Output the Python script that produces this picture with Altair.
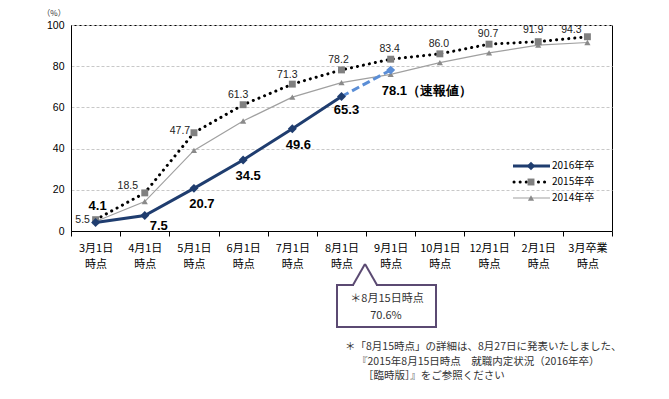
import altair as alt
import pandas as pd

# ---------------- data ----------------
categories = ["3月1日\n時点", "4月1日\n時点", "5月1日\n時点", "6月1日\n時点", "7月1日\n時点",
              "8月1日\n時点", "9月1日\n時点", "10月1日\n時点", "12月1日\n時点", "2月1日\n時点",
              "3月卒業\n時点"]
v2016 = [4.1, 7.5, 20.7, 34.5, 49.6, 65.3]
v2016_prelim = [65.3, 78.1]          # 8月1日 -> 9月1日（速報値）
v2015 = [5.5, 18.5, 47.7, 61.3, 71.3, 78.2, 83.4, 86.0, 90.7, 91.9, 94.3]
v2014 = [4.6, 14.3, 39.1, 53.4, 65.0, 72.0, 76.0, 81.7, 86.5, 90.2, 91.5]
labels2016 = ["4.1", "7.5", "20.7", "34.5", "49.6", "65.3"]
label_prelim = "78.1（速報値）"
labels2015 = ["5.5", "18.5", "47.7", "61.3", "71.3", "78.2", "83.4", "86.0", "90.7", "91.9", "94.3"]
callout_lines = ["＊8月15日時点", "70.6%"]
footnote_lines = ["＊「8月15時点」の詳細は、8月27日に発表いたしました、",
                  "『2015年8月15日時点　就職内定状況（2016年卒）",
                  "［臨時版］』をご参照ください"]
legend_names = ["2016年卒", "2015年卒", "2014年卒"]

# label offsets (styling, pixels)
off2016 = [(2, -17), (14, 10), (8, 16), (5, 16), (6, 16), (5, 14)]
off2015 = [(-13, 0), (-17, -7), (-14, -2), (-5, -10), (-5, -9), (-3, -10), (-1, -10),
           (-1, -10), (-1, -10), (-5, -12), (-16, -7)]

df2016 = pd.DataFrame({"cat": categories[:6], "v": v2016, "lab": labels2016})
dfpre = pd.DataFrame({"cat": categories[5:7], "v": v2016_prelim})
dfpre_end = dfpre.iloc[[1]].assign(lab=label_prelim)
df2015 = pd.DataFrame({"cat": categories, "v": v2015, "lab": labels2015})
df2014 = pd.DataFrame({"cat": categories, "v": v2014})
one = pd.DataFrame({"a": [0]})

C16 = "#1f3d6f"
C16L = "#5b8ed6"
C14 = "#a0a0a0"
C14M = "#8a8a8a"
C15M = "#808080"
JP = "Noto Sans CJK JP"

TOP = 17
H = 206
dyb = 8 + TOP - 22  # vertical shift of annotation coordinates relative to plot top

x_enc = alt.X("cat:N", sort=categories, title=None, bandPosition=0.5,
              scale=alt.Scale(type="band", domain=categories, paddingInner=0, paddingOuter=0),
              axis=alt.Axis(labelExpr="split(datum.label, '\\n')", labelAngle=0,
                            labelFont=JP, labelFontSize=11, labelColor="#000",
                            labelLineHeight=16, labelPadding=6, labelBaseline="top",
                            tickBand="extent", tickSize=5, tickColor="#000",
                            domainColor="#000", grid=False))
y_enc = alt.Y("v:Q", title=None,
              scale=alt.Scale(domain=[0, 100], nice=False, zero=True),
              axis=alt.Axis(values=[0, 20, 40, 60, 80, 100], labelFontSize=10.5,
                            labelFont="Liberation Sans", labelColor="#000", labelPadding=7,
                            tickSize=0, domainColor="#000", gridColor="#c8c8c8",
                            gridDash=[3, 2], gridWidth=1))

l2014 = alt.Chart(df2014).mark_line(color=C14, strokeWidth=1.2).encode(x=x_enc, y=y_enc)
p2014 = alt.Chart(df2014).mark_point(shape="triangle-up", filled=True, color=C14M, size=38,
                                     opacity=1).encode(x=x_enc, y="v:Q")

l2015 = alt.Chart(df2015).mark_line(color="#000", strokeWidth=3, strokeDash=[0.1, 6],
                                    strokeCap="round").encode(x=x_enc, y="v:Q")
p2015 = alt.Chart(df2015).mark_point(shape="square", filled=True, color=C15M, size=48,
                                     opacity=1).encode(x=x_enc, y="v:Q")
t2015 = [
    alt.Chart(df2015).transform_filter(alt.datum.lab == labels2015[i]).mark_text(
        font="Liberation Sans", fontSize=10.5, color="#222", baseline="middle",
        dx=off2015[i][0], dy=off2015[i][1]).encode(
        x=x_enc, y="v:Q", text="lab:N")
    for i in range(len(labels2015))
]

lpre = alt.Chart(dfpre).mark_line(color=C16L, strokeWidth=3, strokeDash=[8, 4]).encode(x=x_enc, y="v:Q")
ppre = alt.Chart(dfpre_end).mark_point(shape="diamond", filled=True, color=C16L, size=80,
                                       opacity=1).encode(x=x_enc, y="v:Q")
tpre = alt.Chart(dfpre_end).mark_text(font="Liberation Sans", fontWeight="bold", fontSize=13,
                                      align="left", dx=-9, dy=21, color="#000").encode(
    x=x_enc, y="v:Q", text="lab:N")

l2016 = alt.Chart(df2016).mark_line(color=C16, strokeWidth=3).encode(x=x_enc, y="v:Q")
p2016 = alt.Chart(df2016).mark_point(shape="diamond", filled=True, color=C16, size=80,
                                     opacity=1).encode(x=x_enc, y="v:Q")
t2016 = [
    alt.Chart(df2016).transform_filter(alt.datum.lab == labels2016[i]).mark_text(
        font="Liberation Sans", fontWeight="bold", fontSize=13, color="#000",
        baseline="middle", dx=off2016[i][0], dy=off2016[i][1]).encode(
        x=x_enc, y="v:Q", text="lab:N")
    for i in range(len(labels2016))
]

# unit label
unit = alt.Chart(one).mark_text(text="（%）", font=JP, fontSize=8, color="#333",
                                baseline="middle").encode(
    x=alt.value(-17), y=alt.value(-11))

def Y(v):
    return alt.value(v - dyb)

# legend (manual)
leg = []
ly = [144, 160, 176]
leg.append(alt.Chart(one).mark_rule(color=C16, strokeWidth=3).encode(
    x=alt.value(442), x2=alt.value(479), y=Y(ly[0])))
leg.append(alt.Chart(one).mark_point(shape="diamond", filled=True, color=C16, size=70, opacity=1).encode(
    x=alt.value(460), y=Y(ly[0])))
leg.append(alt.Chart(one).mark_rule(color="#000", strokeWidth=3, strokeDash=[0.1, 6], strokeCap="round").encode(
    x=alt.value(443), x2=alt.value(479), y=Y(ly[1])))
leg.append(alt.Chart(one).mark_point(shape="square", filled=True, color=C15M, size=48, opacity=1).encode(
    x=alt.value(460), y=Y(ly[1])))
leg.append(alt.Chart(one).mark_rule(color=C14, strokeWidth=1.2).encode(
    x=alt.value(442), x2=alt.value(479), y=Y(ly[2])))
leg.append(alt.Chart(one).mark_point(shape="triangle-up", filled=True, color=C14M, size=38, opacity=1).encode(
    x=alt.value(460), y=Y(ly[2])))
for i, name in enumerate(legend_names):
    leg.append(alt.Chart(one).mark_text(text=name, font=JP, fontSize=10, align="left",
                                        baseline="middle", color="#000").encode(
        x=alt.value(481), y=Y(ly[i])))

# callout box
CB = "#5b4a72"
box = alt.Chart(one).mark_rect(fill="white", stroke=CB, strokeWidth=2).encode(
    x=alt.value(266), x2=alt.value(365), y=Y(263), y2=Y(305))
cover = alt.Chart(one).mark_rule(color="white", strokeWidth=3).encode(
    x=alt.value(283), x2=alt.value(305), y=Y(263))
side1 = alt.Chart(one).mark_rule(color=CB, strokeWidth=2).encode(
    x=alt.value(282), x2=alt.value(294), y=Y(263), y2=Y(242))
side2 = alt.Chart(one).mark_rule(color=CB, strokeWidth=2).encode(
    x=alt.value(294), x2=alt.value(306), y=Y(242), y2=Y(263))
ct1 = alt.Chart(one).mark_text(text=callout_lines[0], font=JP, fontSize=11, color="#333").encode(
    x=alt.value(316), y=Y(277))
ct2 = alt.Chart(one).mark_text(text=callout_lines[1], font=JP, fontSize=11, color="#333").encode(
    x=alt.value(315), y=Y(294))

fn = []
fx = [274, 286, 292]
fy = [325, 340, 354]
for i, t in enumerate(footnote_lines):
    fn.append(alt.Chart(one).mark_text(text=t, font=JP, fontSize=10.5, align="left",
                                       baseline="middle", color="#333").encode(
        x=alt.value(fx[i]), y=Y(fy[i])))

chart = alt.layer(
    l2014, p2014, l2015, p2015, *t2015, lpre, ppre, l2016, p2016, *t2016, tpre, unit,
    *leg, box, cover, side1, side2, ct1, ct2, *fn
).properties(
    width=541, height=H,
    autosize=alt.AutoSizeParams(type="none"),
    padding={"left": 63, "top": TOP, "right": 49, "bottom": 383 - TOP - H},
    background="white",
).configure_view(stroke="#000", strokeWidth=1)

chart.save("out.html", embed_options={"renderer": "svg", "actions": False})
